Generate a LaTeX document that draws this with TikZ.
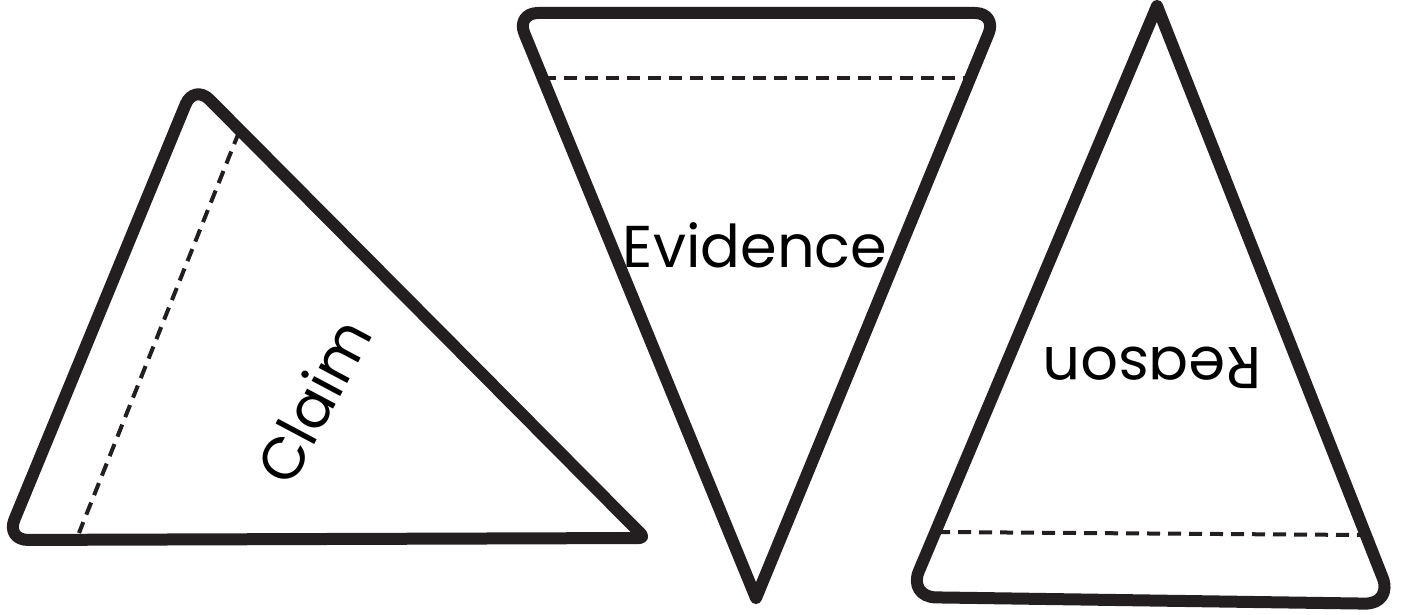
\documentclass[tikz,border=0pt]{standalone}
\usepackage{fontspec}
\setmainfont{Poppins}
\begin{document}
\begin{tikzpicture}[x=0.5pt,y=-0.5pt,
  tri/.style={line width=6pt,draw={rgb,255:red,35;green,31;blue,32},line join=round,line cap=round},
  fold/.style={line width=2pt,draw={rgb,255:red,35;green,31;blue,32},dash pattern=on 6.5pt off 4pt},
  lbl/.style={inner sep=0pt,font=\fontsize{29.5}{31}\selectfont}]
\useasboundingbox (0,0) rectangle (1408,615);
% left triangle
\draw[tri] (645,538) [rounded corners=11pt] -- (194,84) -- (6,540) [rounded corners=3pt] -- cycle;
\draw[fold] (239,132) -- (79,533);
\node[lbl,rotate=62] (claim) at (313,401) {Claim};
% middle triangle
\draw[tri] (756,598) [rounded corners=11pt] -- (516,13) -- (997,13) [sharp corners] -- cycle;
\draw[fold] (543,78) -- (968,78);
\node[lbl] (evidence) at (755,245) {Evidence};
% right triangle
\draw[tri] (1157,6) [rounded corners=14pt] -- (1393,604) -- (908,597) [sharp corners] -- cycle;
\draw[fold] (937,532) -- (1362,535);
\node[lbl,rotate=180] (reason) at (1152,368) {Reason};
\end{tikzpicture}
\end{document}
